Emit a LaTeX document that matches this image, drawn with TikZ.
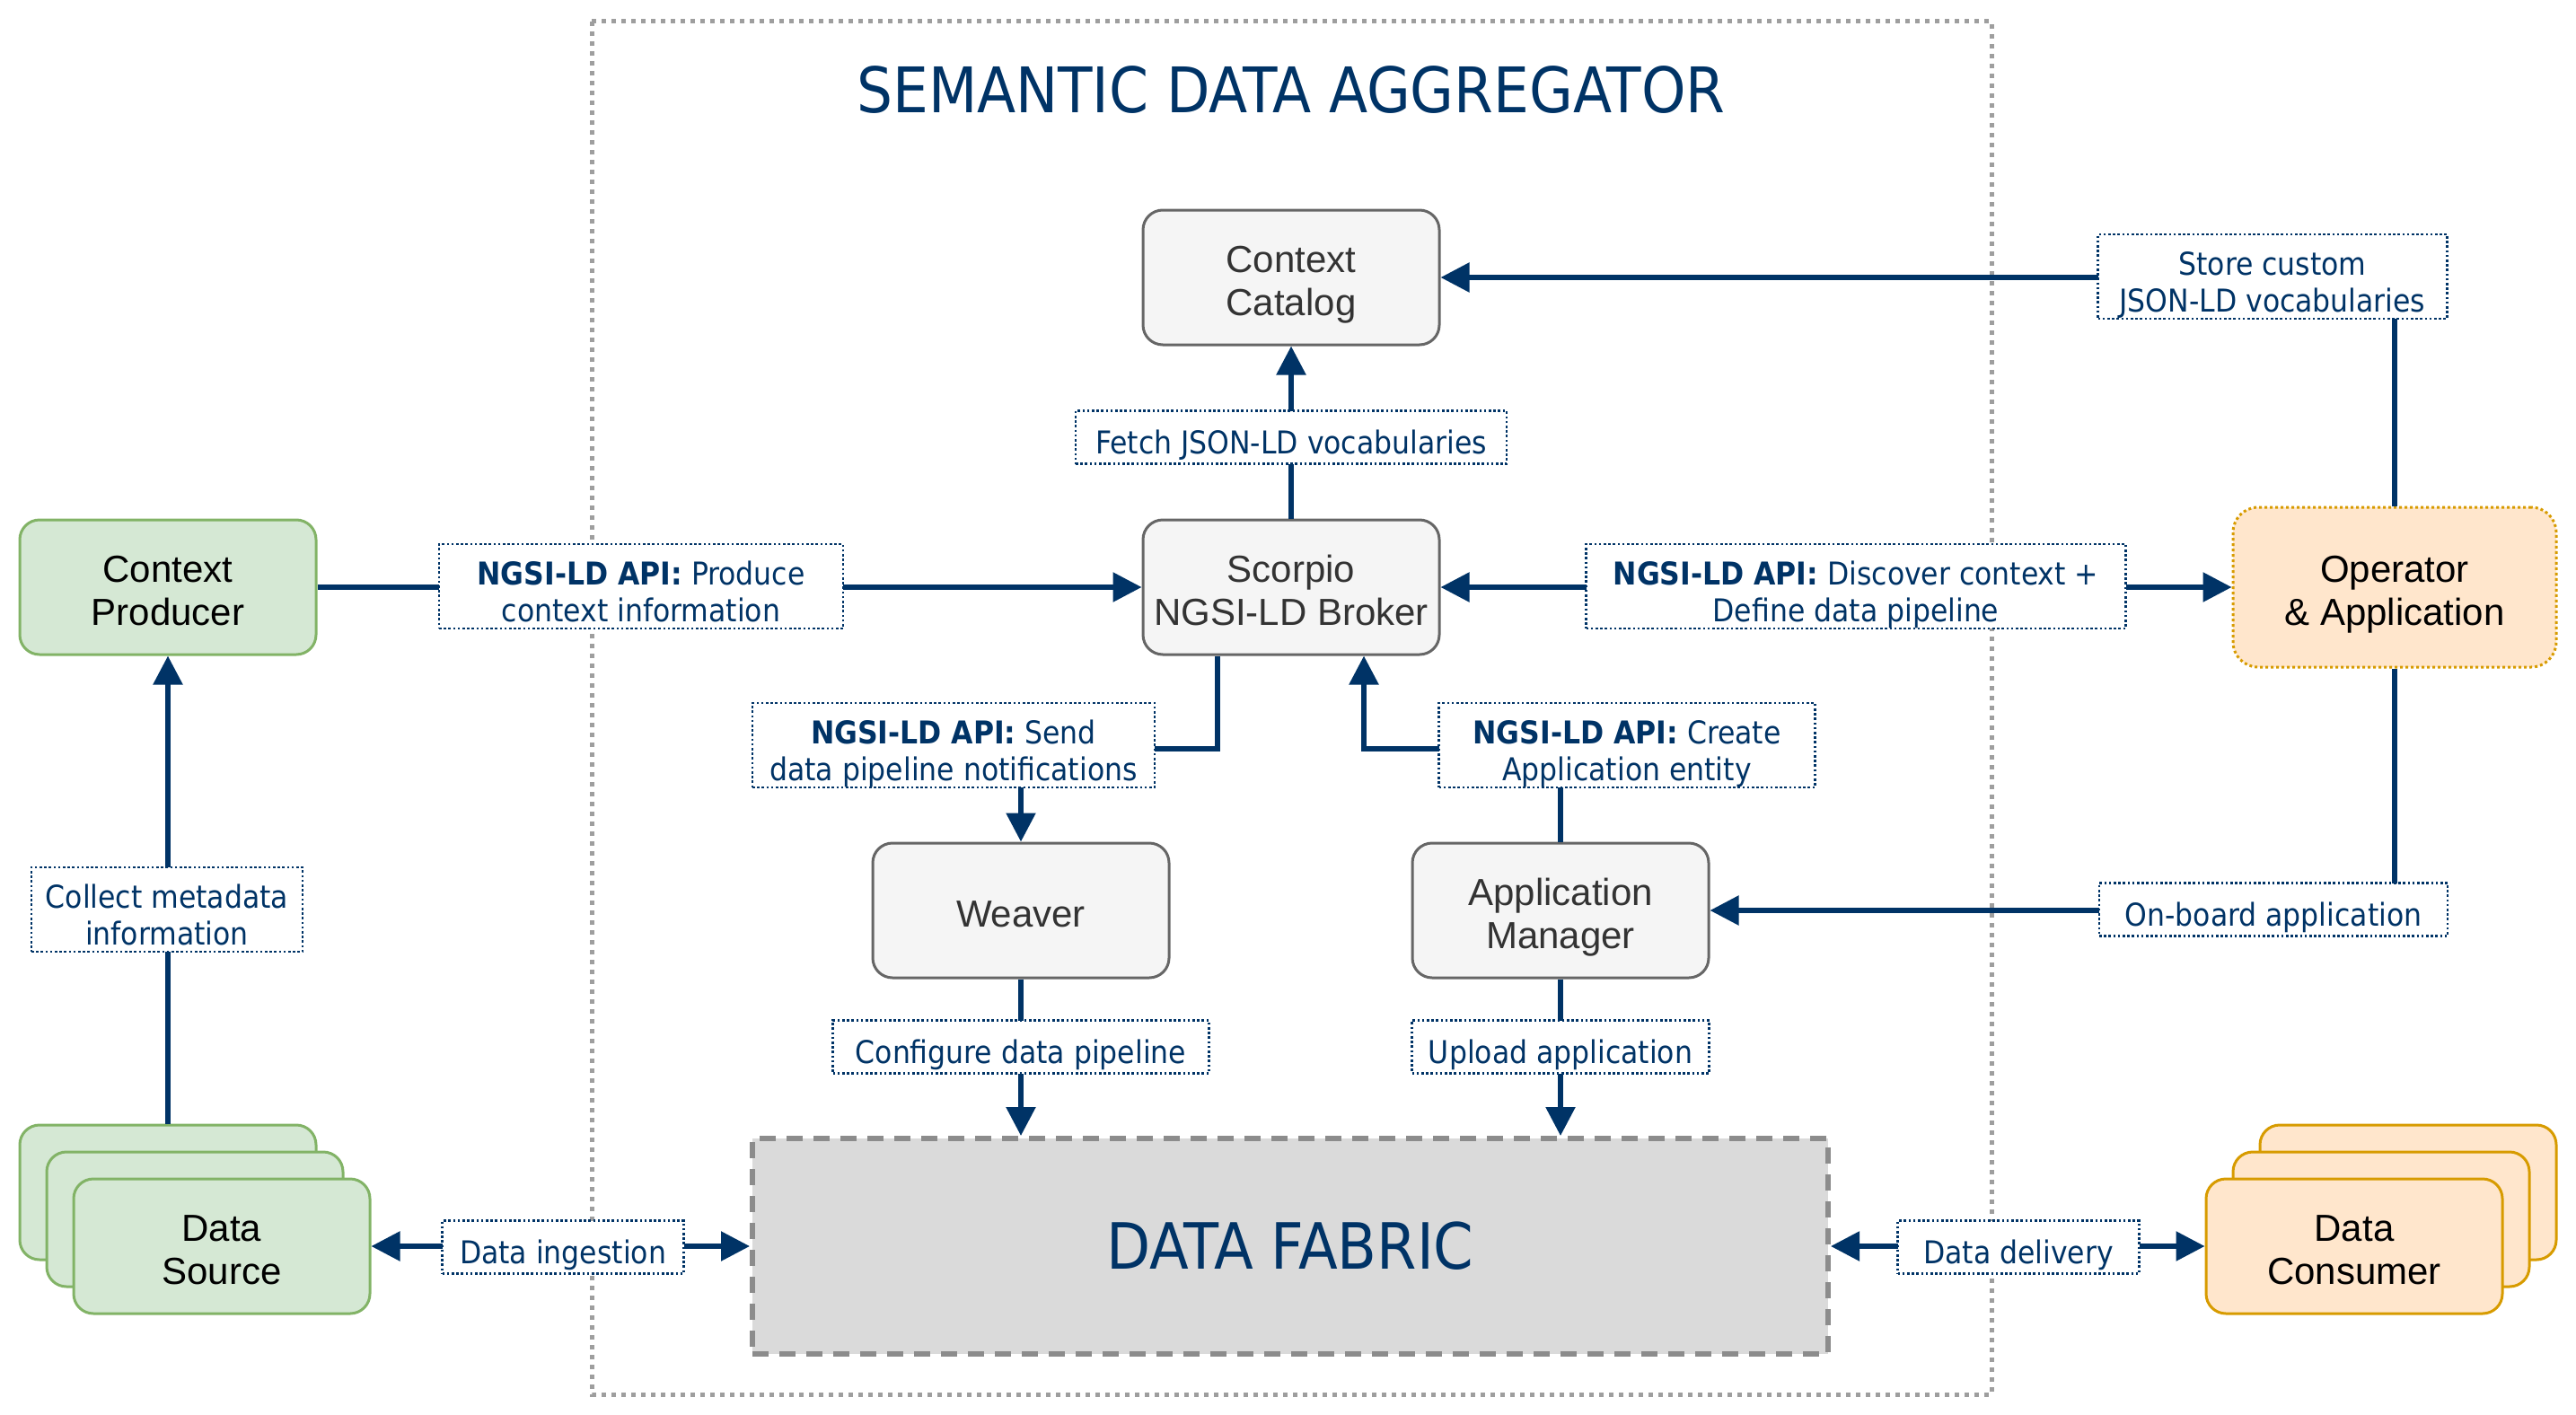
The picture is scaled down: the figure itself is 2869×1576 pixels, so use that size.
\documentclass[tikz,border=0pt]{standalone}
\usepackage{fontspec}
\setmainfont{Liberation Sans}
\newfontfamily\lblfont{DejaVu Sans Condensed}
\usetikzlibrary{arrows.meta}
\definecolor{navy}{HTML}{003366}
\definecolor{grayfill}{HTML}{F5F5F5}
\definecolor{graydraw}{HTML}{666666}
\definecolor{graytext}{HTML}{333333}
\definecolor{greenfill}{HTML}{D5E8D4}
\definecolor{greendraw}{HTML}{82B366}
\definecolor{orangefill}{HTML}{FFE6CC}
\definecolor{orangedraw}{HTML}{D79B00}
\definecolor{fabricfill}{HTML}{DADADA}
\definecolor{fabricdraw}{HTML}{8C8C8C}
\definecolor{contdraw}{HTML}{9E9E9E}
\newcommand\nodetop{\rule{0pt}{46pt}}
\newcommand\nodebot{\rule[-9pt]{0pt}{9pt}}
\newcommand\lbltop{\rule{0pt}{45pt}}
\newcommand\lblbot{\rule[-8pt]{0pt}{8pt}}
\tikzset{
  basebox/.style={rounded corners=22pt, minimum width=330pt, minimum height=150pt,
    line width=3pt, align=center, inner sep=0pt, font=\fontsize{42}{48}\selectfont},
  graybox/.style={basebox, fill=grayfill, draw=graydraw, text=graytext},
  greenbox/.style={basebox, fill=greenfill, draw=greendraw, text=black},
  orangebox/.style={basebox, fill=orangefill, draw=orangedraw, text=black},
  lbl/.style={draw=navy, fill=white, line width=2.6pt, dash pattern=on 2.6pt off 2.6pt,
    text=navy, align=center, inner sep=0pt, font=\lblfont\fontsize{35}{41}\selectfont},
  conn/.style={draw=navy, line width=5.5pt},
  tip/.tip={Triangle[length=32pt,width=32pt]},
}
\begin{document}
\begin{tikzpicture}[x=1pt,y=-1pt]
\useasboundingbox (0,0) rectangle (2869,1576);
% container
\draw[contdraw, line width=5pt, dash pattern=on 5pt off 6pt] (659,24) rectangle (2218,1553);
\node[text=navy, font=\lblfont\fontsize{70}{80}\selectfont] (title) at (1438,100) {SEMANTIC DATA AGGREGATOR};
% nodes
\node[graybox] (catalog) at (1438,309) {\nodetop Context\\Catalog\nodebot};
\node[graybox] (scorpio) at (1438,654) {\nodetop Scorpio\\NGSI-LD Broker\nodebot};
\node[graybox] (weaver) at (1137,1014) {\nodetop Weaver\nodebot};
\node[graybox] (appm) at (1738,1014) {\nodetop Application\\Manager\nodebot};
\node[greenbox] (cp) at (187,654) {\nodetop Context\\Producer\nodebot};
\node[orangebox, minimum width=360pt, minimum height=178pt, rounded corners=28pt,
  dash pattern=on 3pt off 3pt] (op) at (2667,654) {\nodetop Operator\\\& Application\nodebot};
\node[fill=fabricfill, draw=fabricdraw, line width=6pt, dash pattern=on 18pt off 12pt,
  minimum width=1198pt, minimum height=240pt, text=navy,
  font=\lblfont\fontsize{71}{80}\selectfont] (fabric) at (1437,1388) {DATA FABRIC};
% stacks
\node[greenbox] (dsback) at (187,1328) {};
\node[greenbox] (dsmid) at (217,1358) {};
\node[greenbox] (dsfront) at (247,1388) {\nodetop Data\\Source\nodebot};
\node[orangebox] (dcback) at (2682,1328) {};
\node[orangebox] (dcmid) at (2652,1358) {};
\node[orangebox] (dcfront) at (2622,1388) {\nodetop Data\\Consumer\nodebot};
% helper coordinates
\coordinate (k1) at (1356,834);
\coordinate (k2) at (1519,834);
% connectors
\draw[conn,-tip] (cp.east) -- (scorpio.west);
\draw[conn,-tip] (scorpio.north) -- (catalog.south);
\draw[conn,-tip] (op.north) |- (catalog.east);
\draw[conn,tip-tip] (scorpio.east) -- (op.west);
\draw[conn,-tip] (scorpio.south -| k1) -- (k1) -| (weaver.north);
\draw[conn,-tip] (appm.north) |- (k2) -- (scorpio.south -| k2);
\draw[conn,-tip] (op.south) |- (appm.east);
\draw[conn,-tip] (weaver.south) -- (fabric.north -| weaver.south);
\draw[conn,-tip] (appm.south) -- (fabric.north -| appm.south);
\draw[conn,-tip] (dsback.north) -- (cp.south);
\draw[conn,tip-tip] (dsfront.east) -- (fabric.west);
\draw[conn,tip-tip] (fabric.east) -- (dcfront.west);
% labels
\node[lbl, minimum width=450pt, minimum height=88pt] (l1) at (714,653) {\lbltop\textbf{NGSI-LD API:} Produce\\context information\lblbot};
\node[lbl, minimum width=480pt, minimum height=59pt] (l2) at (1438,487) {\lbltop Fetch JSON-LD vocabularies\lblbot};
\node[lbl, minimum width=601pt, minimum height=88pt] (l3) at (2067,653) {\lbltop\textbf{NGSI-LD API:} Discover context +\\Define data pipeline\lblbot};
\node[lbl, minimum width=389pt, minimum height=90pt] (l4) at (2531,308) {\lbltop Store custom\\JSON-LD vocabularies\lblbot};
\node[lbl, minimum width=448pt, minimum height=90pt] (l5) at (1062,830) {\lbltop\textbf{NGSI-LD API:} Send\\data pipeline notifications\lblbot};
\node[lbl, minimum width=419pt, minimum height=90pt] (l6) at (1812,830) {\lbltop\textbf{NGSI-LD API:} Create\\Application entity\lblbot};
\node[lbl, minimum width=302pt, minimum height=90pt] (l7) at (186,1013) {\lbltop Collect metadata\\information\lblbot};
\node[lbl, minimum width=388pt, minimum height=59pt] (l8) at (2532,1013) {\lbltop On-board application\lblbot};
\node[lbl, minimum width=419pt, minimum height=59pt] (l9) at (1137,1166) {\lbltop Configure data pipeline\lblbot};
\node[lbl, minimum width=331pt, minimum height=59pt] (l10) at (1738,1166) {\lbltop Upload application\lblbot};
\node[lbl, minimum width=269pt, minimum height=59pt] (l11) at (627,1389) {\lbltop Data ingestion\lblbot};
\node[lbl, minimum width=269pt, minimum height=59pt] (l12) at (2248,1389) {\lbltop Data delivery\lblbot};
\end{tikzpicture}
\end{document}
